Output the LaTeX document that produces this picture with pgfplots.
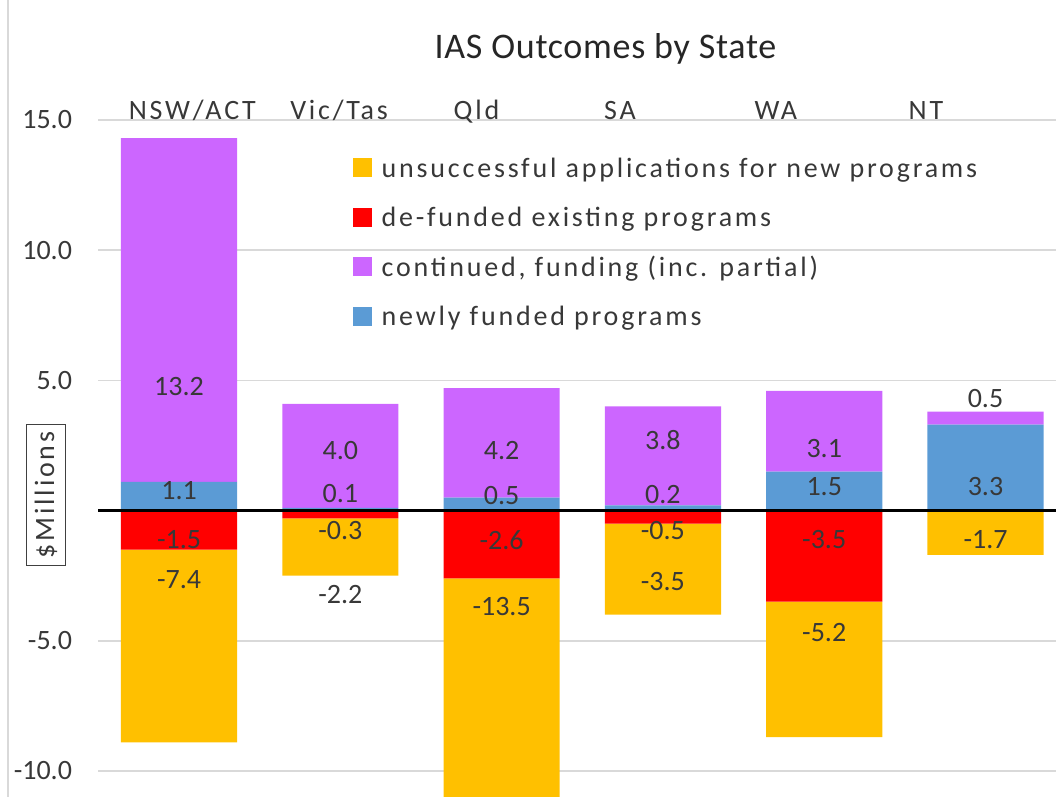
\documentclass[border=0pt]{standalone}
\usepackage{pgfplots}
\pgfplotsset{compat=1.18}
\usepackage{pgfplotstable}
\usepackage{fontspec}
\setmainfont{Carlito}
\newfontfamily\trackfont{Carlito}[LetterSpace=10]
\newfontfamily\titlefont{Carlito}[LetterSpace=2]
\definecolor{cyel}{HTML}{FFC000}
\definecolor{cred}{HTML}{FF0000}
\definecolor{cpur}{HTML}{CC66FF}
\definecolor{cblu}{HTML}{5B9BD5}
\definecolor{cgrid}{HTML}{D9D9D9}
\definecolor{ctext}{HTML}{383838}

\pgfplotstableread{
x new cont defund unsucc
0 1.1 13.2 -1.5 -7.4
1 0.1 4.0 -0.3 -2.2
2 0.5 4.2 -2.6 -13.5
3 0.2 3.8 -0.5 -3.5
4 1.5 3.1 -3.5 -5.2
5 3.3 0.5 0.0 -1.7
}\datatable

% label positions (x, y of label centre) and label text
\pgfplotstableread{
x y lab
0 4.75 13.2
0 0.76 1.1
0 -1.13 -1.5
0 -2.67 -7.4
1 2.30 4.0
1 0.64 0.1
1 -0.75 -0.3
1 -3.24 -2.2
2 2.30 4.2
2 0.56 0.5
2 -1.13 -2.6
2 -3.70 -13.5
3 2.71 3.8
3 0.60 0.2
3 -0.75 -0.5
3 -2.73 -3.5
4 2.40 3.1
4 0.92 1.5
4 -1.13 -3.5
4 -4.70 -5.2
5 4.32 0.5
5 0.92 3.3
5 -1.13 -1.7
}\labeltable

\pgfplotsset{
  common/.style={scale only axis, width=478.8pt, height=338.5pt,
    xmin=-0.5, xmax=5.437, ymin=-11, ymax=15, at={(0pt,0pt)}, anchor=south west},
  sqlegend/.style={legend image code/.code={\fill[##1] (0pt,-3.5pt) rectangle (9.5pt,6pt);}},
}
\tikzset{catlab/.style={anchor=base, font=\trackfont\fontsize{14}{16}\selectfont, text=ctext}}

\begin{document}
\begin{tikzpicture}
\useasboundingbox (-49.2pt,0pt) rectangle (478.8pt,398.5pt);
\draw[cgrid, line width=0.75pt] (-45.2pt,0pt) -- (-45.2pt,398.5pt);

% positive stack + grid + y ticks + legend
\begin{axis}[common, ybar stacked, bar width=0.72,
  axis line style={draw=none}, xtick=\empty,
  ytick={-10,-5,5,10,15}, ymajorgrids, grid style={cgrid, line width=0.75pt},
  major tick length=0pt,
  yticklabel style={font=\fontsize{14}{16}\selectfont, text=ctext, anchor=east, inner sep=0pt, xshift=-13pt,
    /pgf/number format/.cd, fixed, fixed zerofill, precision=1, assume math mode=true},
  legend style={at={(0.2656,0.9453)}, anchor=north west, draw=none, fill=none,
    inner sep=0pt, outer sep=0pt, row sep=11.75pt, column sep=5pt,
    font=\trackfont\fontsize{14}{16}\selectfont, text=ctext,
    nodes={inner sep=0pt, text height=10pt, text depth=3pt}},
  legend cell align=left]
\addplot[fill=cblu, draw=none, forget plot] table[x=x, y=new]{\datatable};
\addplot[fill=cpur, draw=none, forget plot] table[x=x, y=cont]{\datatable};
\addlegendimage{sqlegend, fill=cyel, draw=none}
\addlegendentry{unsuccessful applications for new programs}
\addlegendimage{sqlegend, fill=cred, draw=none}
\addlegendentry{de-funded existing programs}
\addlegendimage{sqlegend, fill=cpur, draw=none}
\addlegendentry{continued, funding (inc. partial)}
\addlegendimage{sqlegend, fill=cblu, draw=none}
\addlegendentry{newly funded programs}
\end{axis}

% negative stack
\begin{axis}[common, ybar stacked, bar width=0.72, hide axis]
\addplot[fill=cred, draw=none] table[x=x, y=defund]{\datatable};
\addplot[fill=cyel, draw=none] table[x=x, y=unsucc]{\datatable};
\end{axis}

% zero line, data labels, titles
\begin{axis}[common, clip=false, axis on top,
  axis line style={draw=none}, xtick=\empty,
  ytick={0}, yticklabels={}, ymajorgrids, grid style={black, line width=1.5pt},
  major tick length=0pt]
\addplot[only marks, mark=none, nodes near coords, point meta=explicit symbolic,
  nodes near coords style={anchor=center, inner sep=0pt, text=ctext, font=\fontsize{14}{16}\selectfont}]
  table[x=x, y=y, meta=lab]{\labeltable};
\node[anchor=base, font=\titlefont\fontsize{18}{20}\selectfont, text=black!85] at (axis cs:2.644,17.37) {IAS Outcomes by State};
\node[catlab] at (axis cs:0.082,15) {NSW/ACT};
\node[catlab] at (axis cs:0.992,15) {Vic/Tas};
\node[catlab] at (axis cs:1.844,15) {Qld};
\node[catlab] at (axis cs:2.734,15) {SA};
\node[catlab] at (axis cs:3.70,15) {WA};
\node[catlab] at (axis cs:4.631,15) {NT};
\node[draw=black!75, line width=0.6pt, fill=white, rotate=90, inner xsep=3.5pt, inner ysep=4pt,
  font=\trackfont\fontsize{14}{16}\selectfont, text=ctext] at (axis cs:-0.825,0.6) {\$Millions};
\end{axis}
\end{tikzpicture}
\end{document}
